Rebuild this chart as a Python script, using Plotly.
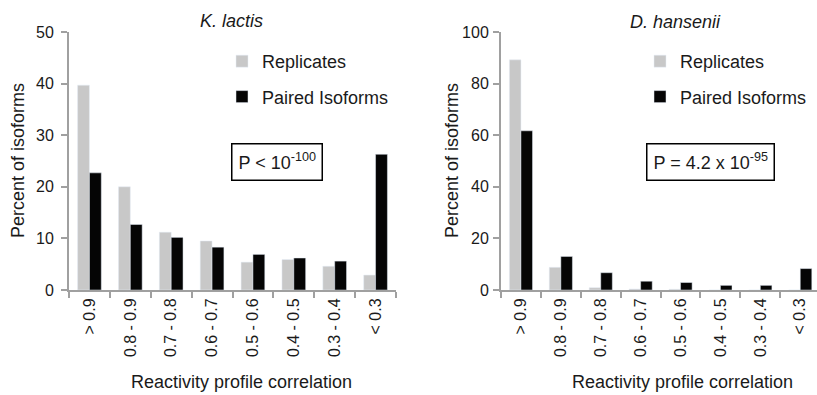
import plotly.graph_objects as go

categories = ["> 0.9", "0.8 - 0.9", "0.7 - 0.8", "0.6 - 0.7", "0.5 - 0.6", "0.4 - 0.5", "0.3 - 0.4", "< 0.3"]

klactis_replicates = [39.7, 20.0, 11.2, 9.5, 5.4, 5.9, 4.6, 2.9]
klactis_paired = [22.7, 12.7, 10.2, 8.3, 6.9, 6.2, 5.6, 26.3]

dhansenii_replicates = [89.2, 8.8, 0.9, 0.4, 0.3, 0.0, 0.0, 0.0]
dhansenii_paired = [61.7, 13.0, 6.7, 3.4, 2.9, 1.8, 1.8, 8.3]

left_ticks = [0, 10, 20, 30, 40, 50]
right_ticks = [0, 20, 40, 60, 80, 100]

GRAY = "#C8C8C8"
BLACK = "#050505"
AXIS = "#A0A0A0"
FONT = "Liberation Sans, Arial, sans-serif"
TXT = "#1a1a1a"

W, H = 817, 395
T, B = 32, 105

fig = go.Figure()
fig.add_trace(go.Bar(x=categories, y=klactis_replicates, name="Replicates", marker_color=GRAY,
                     xaxis="x", yaxis="y", legend="legend", legendgroup="a"))
fig.add_trace(go.Bar(x=categories, y=klactis_paired, name="Paired Isoforms", marker_color=BLACK,
                     xaxis="x", yaxis="y", legend="legend", legendgroup="b"))
fig.add_trace(go.Bar(x=categories, y=dhansenii_replicates, name="Replicates", marker_color=GRAY,
                     xaxis="x2", yaxis="y2", legend="legend2", legendgroup="c"))
fig.add_trace(go.Bar(x=categories, y=dhansenii_paired, name="Paired Isoforms", marker_color=BLACK,
                     xaxis="x2", yaxis="y2", legend="legend2", legendgroup="d"))

xcommon = dict(type="category", showline=True, linecolor=AXIS, linewidth=2, ticks="outside",
               tickson="boundaries", ticklen=6, tickcolor=AXIS, tickwidth=2, tickangle=-90,
               tickfont=dict(size=16, color=TXT, family=FONT), showgrid=False, zeroline=False,
               automargin=False, fixedrange=True)
ycommon = dict(showline=True, linecolor=AXIS, linewidth=2, ticks="outside", ticklen=6,
               tickcolor=AXIS, tickwidth=2, tickfont=dict(size=16, color=TXT, family=FONT),
               showgrid=False, zeroline=False, automargin=False)

fig.update_layout(
    width=W, height=H,
    margin=dict(l=0, r=0, t=T, b=B),
    paper_bgcolor="white", plot_bgcolor="white",
    barmode="group", bargap=0.42, bargroupgap=0.0,
    font=dict(family=FONT, color=TXT, size=18),
    xaxis=dict(domain=[69 / W, 396 / W], range=[-0.5, 7.5], anchor="y", **xcommon),
    yaxis=dict(range=[0, 50], tickvals=left_ticks, anchor="x", ticklabelstandoff=4, **ycommon),
    xaxis2=dict(domain=[501 / W, 1.0], range=[-0.5, 7.42], anchor="y2", **xcommon),
    yaxis2=dict(range=[0, 100], tickvals=right_ticks, anchor="x2", ticklabelstandoff=1, **ycommon),
    legend=dict(x=222 / W, y=(290 - 43) / 258, xanchor="left", yanchor="top",
                font=dict(size=18, color=TXT, family=FONT), tracegroupgap=9,
                traceorder="grouped", bgcolor="rgba(0,0,0,0)"),
    legend2=dict(x=640 / W, y=(290 - 43) / 258, xanchor="left", yanchor="top",
                 font=dict(size=18, color=TXT, family=FONT), tracegroupgap=9,
                 traceorder="grouped", bgcolor="rgba(0,0,0,0)"),
)

def py(pix):
    return (290 - pix) / (290 - 32)

ann = [
    dict(text="<i>K. lactis</i>", x=231 / W, y=py(21)),
    dict(text="<i>D. hansenii</i>", x=675 / W, y=py(22)),
    dict(text="Reactivity profile correlation", x=241 / W, y=py(382)),
    dict(text="Reactivity profile correlation", x=682 / W, y=py(382)),
    dict(text="Percent of isoforms", x=18 / W, y=py(161), textangle=-90),
    dict(text="Percent of isoforms", x=452 / W, y=py(161), textangle=-90),
    dict(text="P < 10<sup>-100</sup>", x=277 / W, y=py(162), bordercolor="black",
         borderwidth=1.5, borderpad=6, bgcolor="white"),
    dict(text="P = 4.2 x 10<sup>-95</sup>", x=710 / W, y=py(162), bordercolor="black",
         borderwidth=1.5, borderpad=6, bgcolor="white"),
]
for a in ann:
    a.update(xref="paper", yref="paper", showarrow=False, xanchor="center", yanchor="middle",
             font=dict(size=18, color=TXT, family=FONT))
    fig.add_annotation(**a)

fig.write_html("out.html")
